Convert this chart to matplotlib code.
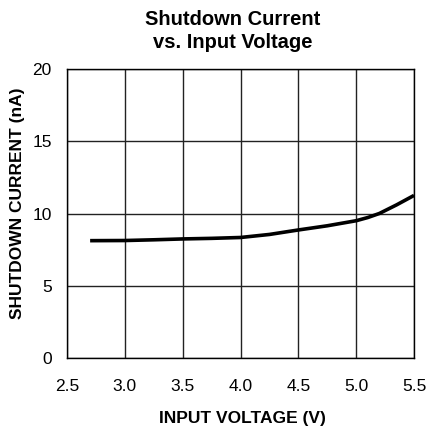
import matplotlib
matplotlib.use('Agg')
import matplotlib.pyplot as plt

# Данные
voltage = [2.7, 3.0, 3.25, 3.5, 3.75, 4.0, 4.25, 4.5, 4.75, 5.0, 5.1, 5.2, 5.35, 5.5]
current = [8.12, 8.13, 8.18, 8.24, 8.28, 8.34, 8.55, 8.86, 9.15, 9.5, 9.72, 10.0, 10.6, 11.25]

x_ticks = [2.5, 3.0, 3.5, 4.0, 4.5, 5.0, 5.5]
y_ticks = [0, 5, 10, 15, 20]

plt.rcParams['font.family'] = ['Liberation Sans', 'DejaVu Sans']

W, H = 427, 432
fig = plt.figure(figsize=(W / 100, H / 100), dpi=100)
ax = fig.add_axes([67 / W, 74 / H, 347 / W, 289 / H])

ax.plot(voltage, current, color='black', linewidth=2.6, solid_capstyle='butt')

ax.set_xlim(2.5, 5.5)
ax.set_ylim(0, 20)
ax.set_xticks(x_ticks)
ax.set_xticklabels(['%.1f' % v for v in x_ticks])
ax.set_yticks(y_ticks)
ax.grid(True, color='#222222', linewidth=1.0)
ax.tick_params(length=0, labelsize=12.5)
ax.tick_params(axis='y', pad=11)
ax.tick_params(axis='x', pad=15)
for s in ax.spines.values():
    s.set_color('black')
    s.set_linewidth(1.0)

# Подписи осей
fig.text(242 / W, 1 - 419 / H, 'INPUT VOLTAGE (V)', ha='center', va='center',
         fontsize=12.5, fontweight='bold')
fig.text(18 / W, 1 - 203 / H, 'SHUTDOWN CURRENT (nA)', ha='center', va='center',
         rotation=90, fontsize=12.5, fontweight='bold')

# Заголовок
fig.text(233 / W, 1 - 31 / H, 'Shutdown Current\nvs. Input Voltage', ha='center', va='center',
         fontsize=14.5, fontweight='bold', linespacing=1.25)

plt.savefig('out.png', dpi=100)
